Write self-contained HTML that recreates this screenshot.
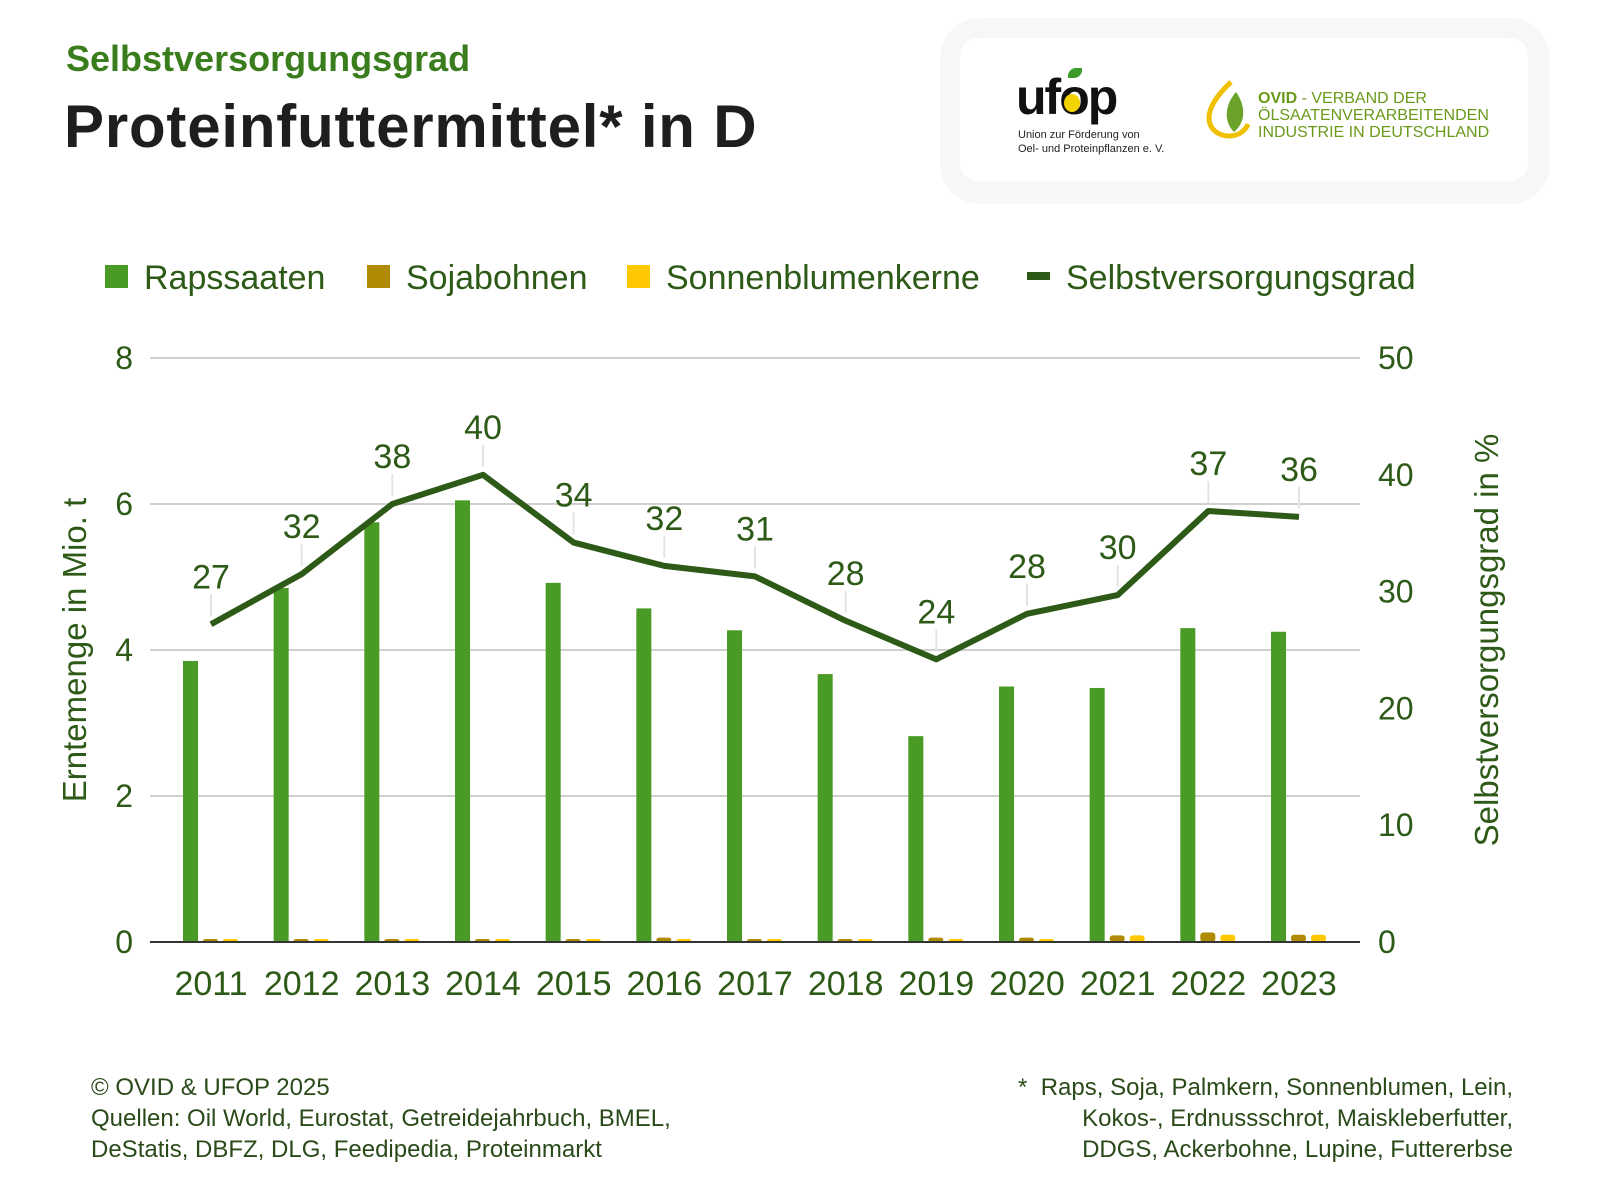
<!DOCTYPE html>
<html><head><meta charset="utf-8"><style>
body{margin:0;background:#fff;font-family:"Liberation Sans",sans-serif;}
#wrap{position:relative;width:1600px;height:1193px;overflow:hidden;}
.abs{position:absolute;}
</style></head><body>
<div id="wrap">
<div class="abs" style="left:66px;top:38px;font-size:36px;font-weight:bold;color:#3a7d1c;">Selbstversorgungsgrad</div>
<div class="abs" style="left:64px;top:92px;font-size:60px;font-weight:bold;color:#1e1e1e;letter-spacing:0.8px;">Proteinfuttermittel* in D</div>
<div class="abs" style="left:940px;top:18px;width:610px;height:186px;background:#f7f7f7;border-radius:40px;">
 <div class="abs" style="left:20px;top:20px;width:568px;height:143px;background:#fff;border-radius:18px;">
  <div class="abs" style="left:56px;top:34px;font-size:50px;font-weight:bold;color:#111;letter-spacing:-2px;line-height:50px;">ufop</div>
  <div class="abs" style="left:108px;top:30px;width:14px;height:10px;background:#3c9a2a;border-radius:8px 0 8px 0;"></div>
  <div class="abs" style="left:104px;top:56px;width:16px;height:18px;background:#f3d400;border-radius:50%;"></div>
  <div class="abs" style="left:58px;top:90px;font-size:11px;color:#222;line-height:14px;">Union zur Förderung von<br>Oel- und Proteinpflanzen e. V.</div>
  <svg class="abs" style="left:244px;top:40px" width="50" height="62"><path d="M27 4 C10 20 2 34 6 46 C12 62 38 62 44 46" fill="none" stroke="#f0c000" stroke-width="5"/><path d="M32 14 C20 28 20 44 30 54 C42 44 42 28 32 14Z" fill="#6aa22a"/></svg>
  <div class="abs" style="left:298px;top:52px;font-size:16px;color:#6a9a1a;line-height:17px;"><b>OVID</b> - VERBAND DER<br>ÖLSAATENVERARBEITENDEN<br>INDUSTRIE IN DEUTSCHLAND</div>
 </div>
</div>
<svg class="abs" style="left:0;top:0" width="1600" height="1193" id="chart"></svg>
<div class="abs" style="left:91px;top:1072px;font-size:24px;color:#2a4a1a;line-height:31px;">© OVID &amp; UFOP 2025<br>Quellen: Oil World, Eurostat, Getreidejahrbuch, BMEL,<br>DeStatis, DBFZ, DLG, Feedipedia, Proteinmarkt</div>
<div class="abs" style="right:87px;top:1072px;font-size:24px;color:#2a4a1a;line-height:31px;text-align:right;">*&nbsp; Raps, Soja, Palmkern, Sonnenblumen, Lein,<br>Kokos-, Erdnussschrot, Maiskleberfutter,<br>DDGS, Ackerbohne, Lupine, Futtererbse</div>
</div>
<script>
const years=["2011","2012","2013","2014","2015","2016","2017","2018","2019","2020","2021","2022","2023"];
const raps=[3.85,4.85,5.75,6.05,4.92,4.57,4.27,3.67,2.82,3.5,3.48,4.3,4.25];
const soja=[0,0,0,0.01,0.03,0.06,0.04,0.04,0.06,0.06,0.09,0.13,0.1];
const sonne=[0.03,0.03,0.03,0.03,0.01,0.01,0.03,0.01,0.03,0.03,0.09,0.1,0.1];
const grad=[27.2,31.5,37.5,40,34.2,32.2,31.3,27.5,24.2,28.1,29.7,36.9,36.4];
const gradLabels=["27","32","38","40","34","32","31","28","24","28","30","37","36"];
const leftTicks=[0,2,4,6,8];
const rightTicks=[0,10,20,30,40,50];
const legendItems=["Rapssaaten","Sojabohnen","Sonnenblumenkerne","Selbstversorgungsgrad"];
const svg=document.getElementById('chart');const NS="http://www.w3.org/2000/svg";
const X0=150,X1=1360,Y0=942,Y1=358;
const yL=v=>Y0-(v/8)*(Y0-Y1);
const yR=v=>Y0-(v/50)*(Y0-Y1);
const xC=i=>211+i*((1299-211)/(years.length-1));
function mk(tag,attrs,txt){const e=document.createElementNS(NS,tag);for(const k in attrs)e.setAttribute(k,attrs[k]);if(txt!=null)e.textContent=txt;svg.appendChild(e);return e;}
const tc="#2d5a17";
function bh(v){return Math.max(Y0-yL(v),3);}
leftTicks.forEach(t=>{
 if(t>0){const g=mk('line',{x1:X0,x2:X1,y1:yL(t),y2:yL(t),stroke:'#d0d0d0','stroke-width':2});
 
 }
 const e=mk('text',{x:133,y:yL(t)+11,'text-anchor':'end','font-size':32,fill:tc,'font-family':'Liberation Sans'},t);
 
 
});
rightTicks.forEach(t=>{
 const e=mk('text',{x:1378,y:yR(t)+11,'font-size':32,fill:tc,'font-family':'Liberation Sans'},t);
 
 
});
years.forEach((y,i)=>{
 const c=xC(i);
 const b=mk('rect',{x:c-28,y:yL(raps[i]),width:15,height:Y0-yL(raps[i]),fill:'#4a9a26'});
 
 
 const s=mk('rect',{x:c-8,y:Y0-bh(soja[i]),width:15,height:bh(soja[i]),fill:'#b08a00',rx:3});
 
 
 const u=mk('rect',{x:c+12,y:Y0-bh(sonne[i]),width:15,height:bh(sonne[i]),fill:'#ffc800',rx:3});
 
 
 const l=mk('text',{x:c,y:995,'text-anchor':'middle','font-size':34,fill:tc,'font-family':'Liberation Sans'},y);
 
 
});
const ax=mk('line',{x1:X0,x2:X1,y1:Y0,y2:Y0,stroke:'#333','stroke-width':2});


const pts=grad.map((v,i)=>xC(i)+','+yR(v)).join(' ');
const pl=mk('polyline',{points:pts,fill:'none',stroke:tc,'stroke-width':6,'stroke-linejoin':'round'});


grad.forEach((v,i)=>{
 const ld=mk('line',{x1:xC(i),x2:xC(i),y1:yR(v)-8,y2:yR(v)-30,stroke:'#e4e4e4','stroke-width':2});
 
 
 const t=mk('text',{x:xC(i),y:yR(v)-36,'text-anchor':'middle','font-size':34,fill:tc,'font-family':'Liberation Sans'},gradLabels[i]);
 
 
});
const ty=mk('text',{transform:'translate(86,650) rotate(-90)','text-anchor':'middle','font-size':33,fill:tc,'font-family':'Liberation Sans'},'Erntemenge in Mio. t');


const ty2=mk('text',{transform:'translate(1498,640) rotate(-90)','text-anchor':'middle','font-size':33,fill:tc,'font-family':'Liberation Sans'},'Selbstversorgungsgrad in %');


const lx=[105,367,627,1027],lcol=['#4a9a26','#b08a00','#ffc800',tc];
legendItems.forEach((n,i)=>{
 const m=i<3?mk('rect',{x:lx[i],y:265,width:23,height:23,fill:lcol[i]}):mk('rect',{x:lx[i],y:272,width:23,height:8,fill:lcol[i]});
 
 
 const t=mk('text',{x:lx[i]+39,y:289,'font-size':34,fill:tc,'font-family':'Liberation Sans'},n);
 
 
});
</script>
</body></html>
